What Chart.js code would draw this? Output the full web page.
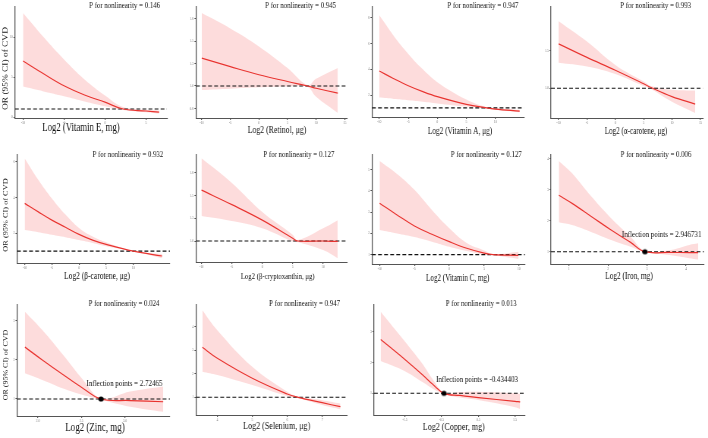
<!DOCTYPE html>
<html>
<head>
<meta charset="utf-8">
<script src="https://cdn.jsdelivr.net/npm/chart.js@4.4.1/dist/chart.umd.min.js"></script>
<style>
  html, body { margin: 0; padding: 0; background: #fff; }
  #fig { position: relative; width: 708px; height: 438px; overflow: hidden; }
  #fig canvas { position: absolute; }
</style>
</head>
<body>
<div id="fig"></div>
<script>
// ---- values (OR scale, x = log2 intake) ----
const vitEX = [-10, -7.5, -5, -2.5, 0, 2.2, 5, 6.6];
const vitEFit = [7.0, 5.4, 3.9, 2.75, 1.85, 1.0, 0.75, 0.6];
const vitEHi = [13.0, 10.0, 7.2, 4.7, 2.7, 1.25, 0.9, 0.8];
const vitELo = [3.8, 3.2, 2.6, 1.95, 1.35, 0.88, 0.6, 0.45];
const vitEXTicks = [-10, -5, 0, 5];
const vitEYTicks = [0, 5, 10];

const retX = [-10, -5, 0, 5, 8.5, 10, 13.8];
const retFit = [1.31, 1.215, 1.125, 1.05, 1.0, 0.975, 0.92];
const retHi = [1.81, 1.64, 1.44, 1.2, 1.01, 1.08, 1.2];
const retLo = [0.955, 0.97, 0.985, 0.995, 0.99, 0.88, 0.7];
const retXTicks = [-10, -5, 0, 5, 10, 15];
const retYTicks = [0.75, 1, 1.25, 1.5, 1.75];

const vitAX = [-10, -7.5, -5, -2.5, 0, 5, 8.5, 10, 14.2];
const vitAFit = [3.87, 3.27, 2.72, 2.26, 1.87, 1.27, 1.0, 0.91, 0.75];
const vitAHi = [8.2, 6.6, 5.2, 4.0, 3.0, 1.65, 1.05, 0.98, 0.85];
const vitALo = [1.8, 1.7, 1.6, 1.48, 1.35, 1.1, 0.96, 0.85, 0.65];
const vitAXTicks = [-10, -5, 0, 5, 10];
const vitAYTicks = [2, 4, 6, 8];

const acarX = [-10, -5, 0, 5, 6.3, 10, 14.1];
const acarFit = [1.59, 1.41, 1.24, 1.06, 1.01, 0.89, 0.79];
const acarHi = [1.89, 1.62, 1.31, 1.09, 1.03, 0.98, 0.97];
const acarLo = [1.34, 1.29, 1.19, 1.03, 0.99, 0.82, 0.67];
const acarXTicks = [-10, -5, 0, 5, 10, 15];
const acarYTicks = [1, 1.5];

const bcarX = [-10, -7.5, -5, -2.5, 0, 2.5, 5, 10, 15.3];
const bcarFit = [3.68, 3.2, 2.74, 2.34, 1.94, 1.62, 1.38, 1.0, 0.73];
const bcarHi = [6.2, 5.0, 3.95, 3.05, 2.3, 1.82, 1.5, 1.01, 0.84];
const bcarLo = [2.18, 2.06, 1.92, 1.78, 1.62, 1.46, 1.28, 0.99, 0.6];
const bcarXTicks = [-10, -5, 0, 5, 10];
const bcarYTicks = [2, 4, 6];

const bcryX = [-10, -5, 0, 5, 5.8, 10, 12.4];
const bcryFit = [1.56, 1.40, 1.23, 1.03, 1.0, 1.0, 0.995];
const bcryHi = [1.91, 1.64, 1.32, 1.07, 1.01, 1.14, 1.23];
const bcryLo = [1.275, 1.22, 1.14, 0.995, 0.99, 0.9, 0.81];
const bcryXTicks = [-10, -5, 0, 5, 10];
const bcryYTicks = [1, 1.25, 1.5, 1.75];

const vitCX = [-10, -7.5, -5, -2.5, 0, 2.5, 5, 6.3, 9.9];
const vitCFit = [3.42, 2.87, 2.35, 1.96, 1.61, 1.3, 1.07, 1.0, 0.97];
const vitCHi = [5.41, 4.8, 4.05, 3.1, 2.24, 1.55, 1.2, 1.02, 1.14];
const vitCLo = [2.16, 2.0, 1.83, 1.61, 1.37, 1.17, 0.99, 0.97, 0.8];
const vitCXTicks = [-10, -5, 0, 5, 10];
const vitCYTicks = [1, 2, 3, 4, 5];

const ironX = [0.74, 1.08, 1.58, 2.08, 2.58, 2.946731, 3.58, 4.08, 4.31];
const ironFit = [2.82, 2.56, 2.13, 1.7, 1.3, 1.0, 0.98, 0.97, 0.97];
const ironHi = [3.93, 3.53, 2.77, 2.08, 1.48, 1.02, 1.05, 1.22, 1.27];
const ironLo = [1.95, 1.86, 1.63, 1.38, 1.16, 0.99, 0.89, 0.79, 0.75];
const ironXTicks = [1, 2, 3, 4];
const ironYTicks = [1, 2, 3, 4];
const ironInflect = [2.946731, 1];

const zincX = [1.85, 2.05, 2.29, 2.52, 2.72465, 3.06, 3.44];
const zincFit = [2.33, 2.0, 1.62, 1.27, 1.0, 0.96, 0.93];
const zincHi = [3.24, 2.77, 2.13, 1.49, 1.02, 1.19, 1.32];
const zincLo = [1.66, 1.49, 1.27, 1.1, 0.98, 0.8, 0.67];
const zincXTicks = [2, 2.5, 3];
const zincYTicks = [1, 2, 3];
const zincInflect = [2.72465, 1];

const selX = [3.57, 4, 5, 6, 6.31, 7, 7.52];
const selFit = [3.13, 2.66, 1.81, 1.14, 1.0, 0.77, 0.6];
const selHi = [4.71, 3.86, 2.3, 1.24, 1.03, 0.88, 0.74];
const selLo = [2.09, 1.95, 1.52, 1.05, 0.97, 0.67, 0.49];
const selXTicks = [4, 5, 6, 7];
const selYTicks = [1, 2, 3, 4];

const cuX = [-2.16, -1.5, -1.0, -0.75, -0.434403, 0, 0.5, 1.5, 1.64];
const cuFit = [2.75, 2.1, 1.58, 1.3, 1.0, 0.93, 0.86, 0.74, 0.72];
const cuHi = [3.65, 2.68, 1.92, 1.47, 1.02, 1.04, 1.05, 1.0, 0.98];
const cuLo = [2.05, 1.72, 1.35, 1.16, 0.98, 0.86, 0.78, 0.55, 0.49];
const cuXTicks = [-1.5, -0.5, 0.5, 1.5];
const cuYTicks = [1, 2, 3];
const cuInflect = [-0.434403, 1];

const pValues = ['0.146', '0.945', '0.947', '0.993', '0.932', '0.127', '0.127', '0.006', '0.024', '0.947', '0.013'];
const xTitles = [
    'Log2 (Vitamin E, mg)', 'Log2 (Retinol, μg)', 'Log2 (Vitamin A, μg)', 'Log2 (α-carotene, μg)',
    'Log2 (β-carotene, μg)', 'Log2 (β-cryptoxanthin, μg)', 'Log2 (Vitamin C, mg)', 'Log2 (Iron, mg)',
    'Log2 (Zinc, mg)', 'Log2 (Selenium, μg)', 'Log2 (Copper, mg)'
];
const yTitle = 'OR (95% CI) of CVD';

// ---- look ----
const SQUEEZE = 0.76;            // the source panels are squashed horizontally
const RED = 'rgb(232, 50, 46)';
const BAND = 'rgba(250, 172, 172, 0.42)';
const AXIS = '#555';
const SERIF = '"Liberation Serif", "Times New Roman", serif';

// cell = page box of the canvas, box = plot area on the page [left, top, right, bottom]
const panels = [
    { cell: [0, 0, 176, 145], box: [15, 7, 167, 118], xr: [-10.98, 7.56], yr: [-0.125, 13.75],
      x: vitEX, fit: vitEFit, hi: vitEHi, lo: vitELo, xt: vitEXTicks, yt: vitEYTicks,
      pPos: [160, 6], tPos: [81, 128, 11.5], yPos: [5.5, 68.5, 9.4] },
    { cell: [176, 0, 176, 145], box: [196, 7, 347, 118], xr: [-11.0, 15.4], yr: [0.644, 1.878],
      x: retX, fit: retFit, hi: retHi, lo: retLo, xt: retXTicks, yt: retYTicks,
      pPos: [336, 6], tPos: [277, 130, 10.3] },
    { cell: [352, 0, 177, 145], box: [372, 7, 524, 117], xr: [-11.26, 14.95], yr: [0.29, 8.85],
      x: vitAX, fit: vitAFit, hi: vitAHi, lo: vitALo, xt: vitAXTicks, yt: vitAYTicks,
      pPos: [518.3, 6], tPos: [460, 131.5, 9.7] },
    { cell: [529, 0, 179, 145], box: [551, 7, 703, 118], xr: [-11.34, 15.47], yr: [0.605, 2.08],
      x: acarX, fit: acarFit, hi: acarHi, lo: acarLo, xt: acarXTicks, yt: acarYTicks,
      pPos: [691, 6], tPos: [636, 131.5, 9.4] },
    { cell: [0, 145, 176, 145], box: [17, 155, 170, 263], xr: [-11.42, 16.76], yr: [0.336, 6.39],
      x: bcarX, fit: bcarFit, hi: bcarHi, lo: bcarLo, xt: bcarXTicks, yt: bcarYTicks,
      pPos: [163.3, 154.3], tPos: [97, 276.7, 9.9], yPos: [6, 215, 8.3] },
    { cell: [176, 145, 176, 145], box: [196, 155, 347, 262], xr: [-10.9, 13.93], yr: [0.769, 1.947],
      x: bcryX, fit: bcryFit, hi: bcryHi, lo: bcryLo, xt: bcryXTicks, yt: bcryYTicks,
      pPos: [334.3, 154.3], tPos: [277.7, 276.7, 8.9] },
    { cell: [352, 145, 177, 145], box: [372, 155, 525, 264], xr: [-11.09, 10.86], yr: [0.56, 5.69],
      x: vitCX, fit: vitCFit, hi: vitCHi, lo: vitCLo, xt: vitCXTicks, yt: vitCYTicks,
      pPos: [521.7, 154.3], tPos: [457.7, 279, 9.3] },
    { cell: [529, 145, 179, 145], box: [551, 155, 704, 264], xr: [0.54, 4.46], yr: [0.603, 4.12],
      x: ironX, fit: ironFit, hi: ironHi, lo: ironLo, xt: ironXTicks, yt: ironYTicks,
      pPos: [691.3, 154.3], tPos: [629, 276.7, 9.7], inf: ironInflect, iPos: [661.7, 234.3] },
    { cell: [0, 290, 176, 148], box: [17, 305, 170, 416], xr: [1.759, 3.518], yr: [0.564, 3.41],
      x: zincX, fit: zincFit, hi: zincHi, lo: zincLo, xt: zincXTicks, yt: zincYTicks,
      pPos: [159.3, 303.3], tPos: [95, 428.3, 11.8], yPos: [6, 365, 8], inf: zincInflect, iPos: [124.5, 383.3] },
    { cell: [176, 290, 176, 148], box: [196, 305, 347, 415], xr: [3.39, 7.71], yr: [0.247, 4.93],
      x: selX, fit: selFit, hi: selHi, lo: selLo, xt: selXTicks, yt: selYTicks,
      pPos: [340, 304], tPos: [276.7, 426.7, 10.6] },
    { cell: [352, 290, 177, 148], box: [374, 305, 525, 415], xr: [-2.342, 1.773], yr: [0.295, 3.87],
      x: cuX, fit: cuFit, hi: cuHi, lo: cuLo, xt: cuXTicks, yt: cuYTicks,
      pPos: [516.7, 303.3], tPos: [453.8, 427.3, 10.6], inf: cuInflect, iPos: [477, 379.3] }
];

// round dot that stays round after the horizontal squeeze
function dotImage(r, sx) {
    const c = document.createElement('canvas');
    c.width = Math.ceil(2 * r / sx) + 2;
    c.height = Math.ceil(2 * r) + 2;
    const g = c.getContext('2d');
    g.fillStyle = '#000';
    g.beginPath();
    g.ellipse(c.width / 2, c.height / 2, r / sx, r, 0, 0, Math.PI * 2);
    g.fill();
    return c;
}

// titles and labels, placed in page pixels
function textPlugin(pn, i, sx) {
    const [cl, ct] = pn.cell;
    return {
        id: 'panelText',
        afterDraw(chart) {
            const ctx = chart.ctx;
            const put = (txt, X, Y, size, align, rot) => {
                ctx.save();
                ctx.translate((X - cl) / sx, Y - ct);
                if (rot) ctx.rotate(rot);
                ctx.font = size + 'px ' + SERIF;
                ctx.fillStyle = '#111';
                ctx.textAlign = align;
                ctx.textBaseline = 'middle';
                ctx.fillText(txt, 0, 0);
                ctx.restore();
            };
            put('P for nonlinearity = ' + pValues[i], pn.pPos[0], pn.pPos[1], 9, 'right');
            put(xTitles[i], pn.tPos[0], pn.tPos[1], pn.tPos[2], 'center');
            if (pn.yPos) put(yTitle, pn.yPos[0], pn.yPos[1], pn.yPos[2], 'center', -Math.PI / 2);
            if (pn.inf) put('Inflection points = ' + pn.inf[0], pn.iPos[0], pn.iPos[1], 9.2, 'center');
        }
    };
}

const fig = document.getElementById('fig');

panels.forEach((pn, i) => {
    const [cl, ct, cw, ch] = pn.cell;
    const [ax, ty, rx, by] = pn.box;
    const logW = Math.round(cw / SQUEEZE);
    const sx = cw / logW;

    const cv = document.createElement('canvas');
    cv.width = logW;
    cv.height = ch;
    cv.style.left = cl + 'px';
    cv.style.top = ct + 'px';
    cv.style.width = cw + 'px';
    cv.style.height = ch + 'px';
    fig.appendChild(cv);

    const pts = ys => pn.x.map((v, k) => ({ x: v, y: ys[k] }));
    const datasets = [];
    if (pn.inf) {
        datasets.push({ data: [{ x: pn.inf[0], y: pn.inf[1] }], showLine: false,
            pointStyle: dotImage(2.6, sx), pointRadius: 2.6 });
    }
    datasets.push({ data: pts(pn.fit), borderColor: RED, borderWidth: 1.2, pointRadius: 0,
        tension: 0.4, fill: false });
    datasets.push({ data: [{ x: pn.xr[0], y: 1 }, { x: pn.xr[1], y: 1 }], borderColor: '#111',
        borderWidth: 1.1, borderDash: [5, 3], pointRadius: 0, fill: false });
    datasets.push({ data: pts(pn.hi), borderWidth: 0, borderColor: 'transparent', pointRadius: 0,
        tension: 0.4, backgroundColor: BAND, fill: '+1' });
    datasets.push({ data: pts(pn.lo), borderWidth: 0, borderColor: 'transparent', pointRadius: 0,
        tension: 0.4, fill: false });

    const tickFont = { size: 4, family: SERIF };

    new Chart(cv, {
        type: 'line',
        data: { datasets },
        plugins: [textPlugin(pn, i, sx)],
        options: {
            responsive: false,
            animation: false,
            events: [],
            layout: {
                autoPadding: false,
                padding: { left: 0, top: ty - ct, right: logW - (rx - cl) / sx, bottom: 0 }
            },
            plugins: { legend: { display: false }, tooltip: { enabled: false }, title: { display: false } },
            scales: {
                x: {
                    type: 'linear', min: pn.xr[0], max: pn.xr[1],
                    afterBuildTicks: a => { a.ticks = pn.xt.map(v => ({ value: v })); },
                    afterFit: a => { a.height = ch - (by - ct); },
                    ticks: { font: tickFont, color: '#777', padding: 1, maxRotation: 0, autoSkip: false },
                    grid: { display: true, drawOnChartArea: false, drawTicks: true, tickLength: 2, color: AXIS, lineWidth: 1.2 },
                    border: { display: true, color: AXIS, width: 1 }
                },
                y: {
                    type: 'linear', min: pn.yr[0], max: pn.yr[1],
                    afterBuildTicks: a => { a.ticks = pn.yt.map(v => ({ value: v })); },
                    afterFit: a => { a.width = (ax - cl) / sx; },
                    ticks: { font: tickFont, color: '#777', padding: 1, autoSkip: false },
                    grid: { display: true, drawOnChartArea: false, drawTicks: true, tickLength: 2, color: AXIS, lineWidth: 1 },
                    border: { display: true, color: AXIS, width: 1.3 }
                }
            }
        }
    });
});
</script>
</body>
</html>
